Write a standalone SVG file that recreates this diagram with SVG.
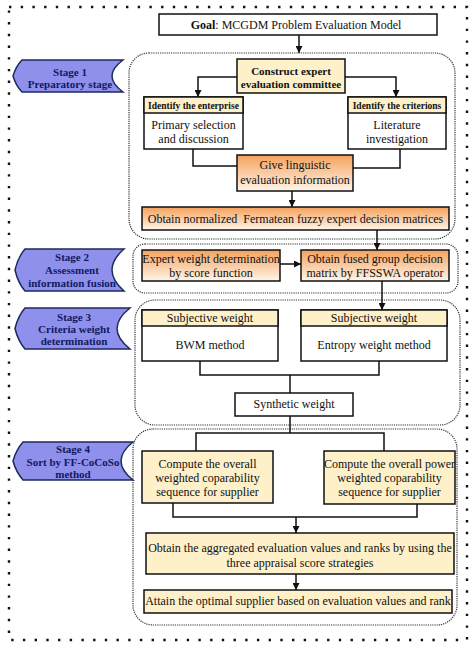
<svg xmlns="http://www.w3.org/2000/svg" width="474" height="649" viewBox="0 0 474 649">
<style>
text{font-family:"Liberation Serif","Times New Roman",serif;fill:#111;}
.t{font-size:12px;text-anchor:middle;}
.b{font-size:11px;font-weight:bold;text-anchor:middle;}
.h{font-size:9.5px;font-weight:bold;text-anchor:middle;}
.st{font-size:11px;font-weight:bold;text-anchor:middle;fill:#101a5e;}
.box{fill:#fff;stroke:#111;stroke-width:1.5;}
.yel{fill:#fef0c9;stroke:#111;stroke-width:1.5;}
.org{fill:url(#og);stroke:#111;stroke-width:1.5;}
.stage{fill:#8f8fec;stroke:#1c2a5c;stroke-width:1.5;}
.cont{fill:none;stroke:#333;stroke-width:1.2;stroke-dasharray:1.2 1;}
.ln{fill:none;stroke:#111;stroke-width:1.5;}
.ar{fill:none;stroke:#111;stroke-width:1.5;marker-end:url(#ah);}
</style>
<defs>
<linearGradient id="og" x1="0" y1="0" x2="0" y2="1">
<stop offset="0" stop-color="#f5a15c"/>
<stop offset="1" stop-color="#fff5ea"/>
</linearGradient>
<marker id="ah" viewBox="0 0 10 10" refX="10" refY="5" markerWidth="7" markerHeight="7" markerUnits="userSpaceOnUse" orient="auto">
<path d="M0,0 L10,5 L0,10 z" fill="#111"/>
</marker>
</defs>
<rect width="474" height="649" fill="#fff"/>
<rect id="border" x="9" y="7" width="458" height="633" fill="none" stroke="#111" stroke-width="2.4" stroke-dasharray="2.4 9.3"/>

<g id="containers">
<rect id="c1" class="cont" x="129" y="53" width="326" height="186" rx="20"/>
<rect id="c2" class="cont" x="133" y="244" width="325" height="49" rx="12"/>
<rect id="c3" class="cont" x="135" y="300" width="325" height="125" rx="20"/>
<rect id="c4" class="cont" x="133" y="429" width="324" height="196" rx="20"/>
</g>

<g id="stage1">
<path class="stage" d="M22,60 L123,60 Q101,76 123,92 L22,92 Q16,86 13,76 Q16,66 22,60 Z"/>
<text class="st" x="70" y="76">Stage 1</text>
<text class="st" x="70" y="88">Preparatory stage</text>
</g>
<g id="stage2">
<path class="stage" d="M25,249 L124,249 Q100,270 124,291 L25,291 Q18,283 15,270 Q18,257 25,249 Z"/>
<text class="st" x="72" y="261">Stage 2</text>
<text class="st" x="72" y="274">Assessment</text>
<text class="st" x="72" y="287">information fusion</text>
</g>
<g id="stage3">
<path class="stage" d="M25,308 L130,308 Q104,328.5 130,349 L25,349 Q18,341 15,328.5 Q18,316 25,308 Z"/>
<text class="st" x="74" y="321">Stage 3</text>
<text class="st" x="74" y="333">Criteria weight</text>
<text class="st" x="74" y="345">determination</text>
</g>
<g id="stage4">
<path class="stage" d="M23,442 L133,442 Q109,461 133,480 L23,480 Q16,472 13,461 Q16,450 23,442 Z"/>
<text class="st" x="73" y="453">Stage 4</text>
<text class="st" x="73" y="466">Sort by FF-CoCoSo</text>
<text class="st" x="73" y="478">method</text>
</g>

<g id="connectors">
<path class="ar" d="M299,35 V53"/>
<path class="ar" d="M237,77 H198 V97"/>
<path class="ar" d="M345,77 H396 V97"/>
<path class="ln" d="M193,149 V166 H237"/>
<path class="ln" d="M400,149 V168 H353"/>
<path class="ar" d="M292,191 V207"/>
<path class="ar" d="M377,230 V250"/>
<path class="ar" d="M280,264 H301"/>
<path class="ar" d="M382,281 V310"/>
<path class="ln" d="M200,361 V375 H379 V361"/>
<path class="ln" d="M290,375 V393"/>
<path class="ln" d="M290,416 V433"/>
<path class="ln" d="M196,451 V433 H384 V451"/>
<path class="ln" d="M173,503 V517 H417 V504"/>
<path class="ar" d="M296,517 V533"/>
<path class="ar" d="M296,574 V590"/>
</g>

<g id="goal">
<rect class="box" x="159" y="14" width="278" height="21"/>
<text class="t" x="296" y="29"><tspan font-weight="bold">Goal</tspan>: MCGDM Problem Evaluation Model</text>
</g>
<g id="construct">
<rect class="yel" x="237" y="59" width="108" height="34"/>
<text class="b" x="291" y="75">Construct expert</text>
<text class="b" x="291" y="88">evaluation committee</text>
</g>
<g id="enterprise">
<rect class="box" x="144" y="97" width="99" height="52"/>
<rect class="yel" x="144" y="97" width="99" height="16"/>
<text class="h" x="193.5" y="108.5">Identify the enterprise</text>
<text class="t" x="193.5" y="129">Primary selection</text>
<text class="t" x="193.5" y="143">and discussion</text>
</g>
<g id="criterions">
<rect class="box" x="348" y="97" width="98" height="52"/>
<rect class="yel" x="348" y="97" width="98" height="16"/>
<text class="h" x="397" y="108.5">Identify the criterions</text>
<text class="t" x="397" y="129">Literature</text>
<text class="t" x="397" y="143">investigation</text>
</g>
<g id="linguistic">
<rect class="org" x="237" y="155" width="116" height="36"/>
<text class="t" x="295" y="169">Give linguistic</text>
<text class="t" x="295" y="184">evaluation information</text>
</g>
<g id="normalized">
<rect class="org" x="142" y="207" width="307" height="23"/>
<text class="t" x="295.5" y="223" xml:space="preserve">Obtain normalized  Fermatean fuzzy expert decision matrices</text>
</g>
<g id="expertweight">
<rect class="org" x="142" y="250" width="138" height="31"/>
<text class="t" x="211" y="263">Expert weight determination</text>
<text class="t" x="211" y="277">by score function</text>
</g>
<g id="fused">
<rect class="org" x="301" y="250" width="148" height="31"/>
<text class="t" x="375" y="263">Obtain fused group decision</text>
<text class="t" x="375" y="277">matrix by FFSSWA operator</text>
</g>
<g id="bwm">
<rect class="box" x="142" y="310" width="136" height="51"/>
<rect class="yel" x="142" y="310" width="136" height="16"/>
<text class="t" x="210" y="322">Subjective weight</text>
<text class="t" x="210" y="349">BWM method</text>
</g>
<g id="entropy">
<rect class="box" x="301" y="310" width="146" height="51"/>
<rect class="yel" x="301" y="310" width="146" height="16"/>
<text class="t" x="374" y="322">Subjective weight</text>
<text class="t" x="374" y="349">Entropy weight method</text>
</g>
<g id="synthetic">
<rect class="box" x="235" y="393" width="118" height="23"/>
<text class="t" x="294" y="408">Synthetic weight</text>
</g>
<g id="wcs">
<rect class="yel" x="142" y="451" width="131" height="52"/>
<text class="t" x="207.5" y="468">Compute the overall</text>
<text class="t" x="207.5" y="482">weighted coparability</text>
<text class="t" x="207.5" y="496">sequence for supplier</text>
</g>
<g id="pwcs">
<rect class="yel" x="324" y="451" width="131" height="53"/>
<text class="t" x="389.5" y="468">Compute the overall power</text>
<text class="t" x="389.5" y="482">weighted coparability</text>
<text class="t" x="389.5" y="496">sequence for supplier</text>
</g>
<g id="aggregated">
<rect class="yel" x="146" y="533" width="308" height="41"/>
<text class="t" x="300" y="552">Obtain the aggregated evaluation values and ranks by using the</text>
<text class="t" x="300" y="567">three appraisal score strategies</text>
</g>
<g id="attain">
<rect class="yel" x="144" y="590" width="308" height="23"/>
<text class="t" x="298" y="605">Attain the optimal supplier based on evaluation values and rank</text>
</g>
</svg>
